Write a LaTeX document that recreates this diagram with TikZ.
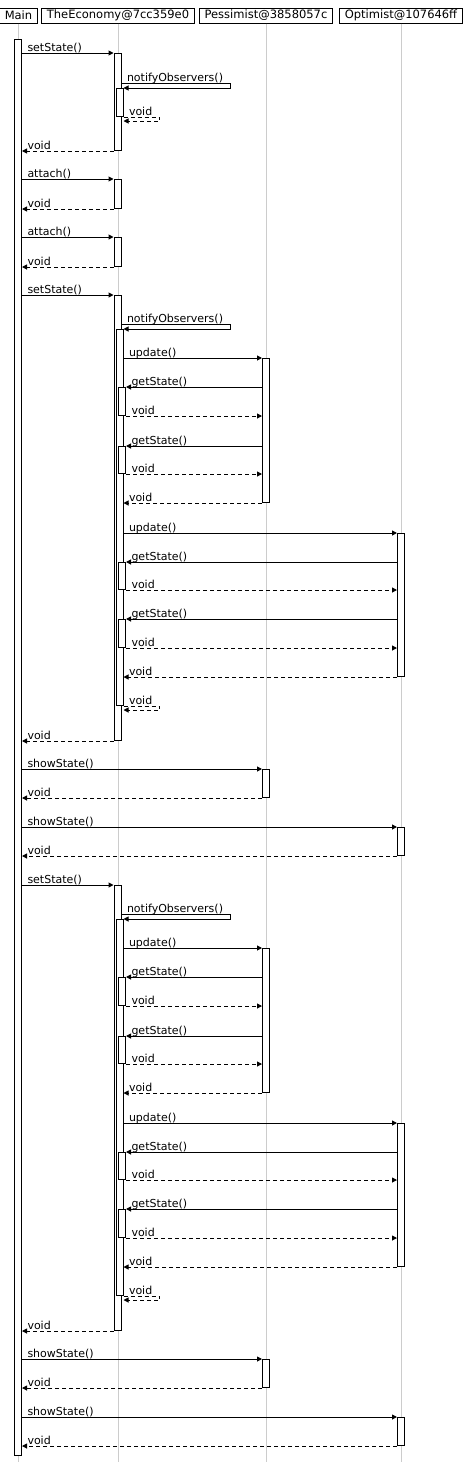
\documentclass[tikz,border=0pt]{standalone}
\usepackage{fontspec}
\setmainfont{DejaVu Sans}
\usetikzlibrary{arrows.meta}
\tikzset{
  head/.style={draw, line width=1pt, inner xsep=5pt, inner ysep=0pt, minimum height=15pt,
    font=\fontsize{11.5pt}{13pt}\selectfont},
  life/.style={draw=black!20, line width=1pt},
  act/.style={draw, fill=white, line width=1pt, minimum width=7pt, inner sep=0pt, anchor=north},
  call/.style={line width=1pt, -{Triangle[length=5pt,width=5pt]}},
  ret/.style={call, dash pattern=on 4pt off 3pt},
  lbl/.style={anchor=base west, inner sep=0pt, xshift=5pt, yshift=2pt},
}
\begin{document}
\begin{tikzpicture}[x=1pt, y=-1pt, font=\fontsize{11pt}{13pt}\selectfont]
    \useasboundingbox (0,0) rectangle (474,1462);
    \node[head] (main) at (18.5,15.5) {Main};
    \node[head] (econ) at (118,15.5) {TheEconomy@7cc359e0};
    \node[head] (pess) at (266,15.5) {Pessimist@3858057c};
    \node[head] (opt) at (401,15.5) {Optimist@107646ff};
    \foreach \n in {main, econ, pess, opt}
      \draw[life] (\n) -- (\n |- 0,1462);
    \node[act, minimum height=1416pt] (m) at (18,39) {};

    \node[act, minimum height=97pt] (e1) at (117.5,53) {};
    \node[act, minimum height=28pt] (e1n) at (119.5,88) {};
    \draw[call] (m.east |- e1.north) node[lbl] {setState()} -- (e1.north west);
    \draw[call] (e1.east |- e1n.north) ++(0,-5) node[lbl] {notifyObservers()}
          -| ++(109,5) -- (e1n.north east);
    \draw[ret] (e1n.south east) node[lbl] {void} -- ++(36,0) -- ++(0,4) -- ++(-36,0);
    \draw[ret] (e1.south west) -- (m.east |- e1.south) node[lbl] {void};

    \node[act, minimum height=29pt] (e2) at (117.5,179) {};
    \node[act, minimum height=29pt] (e3) at (117.5,237) {};
    \foreach \e in {e2, e3} {
      \draw[call] (m.east |- \e.north) node[lbl] {attach()} -- (\e.north west);
      \draw[ret] (\e.south west) -- (m.east |- \e.south) node[lbl] {void};
    }

    \foreach \k/\d in {a/0, b/590} {
      \begin{scope}[shift={(0,\d)}]
        \node[act, minimum height=445pt] (e4\k) at (117.5,295) {};
        \node[act, minimum height=376pt] (e4n\k) at (119.5,329) {};
        \node[act, minimum height=144pt] (p1\k) at (266,358) {};
        \node[act, minimum height=28pt] (g1\k) at (122,387) {};
        \node[act, minimum height=27pt] (g2\k) at (122,446) {};
        \node[act, minimum height=143pt] (o1\k) at (401,533) {};
        \node[act, minimum height=27pt] (g3\k) at (122,562) {};
        \node[act, minimum height=28pt] (g4\k) at (122,619) {};
        \node[act, minimum height=28pt] (p2\k) at (266,769) {};
        \node[act, minimum height=28pt] (o2\k) at (401,827) {};
        \draw[call] (m.east |- e4\k.north) node[lbl] {setState()} -- (e4\k.north west);
        \draw[call] (e4\k.east |- e4n\k.north) ++(0,-5) node[lbl] {notifyObservers()}
              -| ++(109,5) -- (e4n\k.north east);
        \foreach \o in {p1, o1} {
          \draw[call] (e4n\k.east |- \o\k.north) node[lbl] {update()} -- (\o\k.north west);
          \draw[ret] (\o\k.south west) -- (e4n\k.east |- \o\k.south) node[lbl] {void};
        }
        \foreach \g/\o in {g1/p1, g2/p1, g3/o1, g4/o1} {
          \draw[call] (\o\k.west |- \g\k.north) -- (\g\k.north east) node[lbl] {getState()};
          \draw[ret] (\g\k.south east) node[lbl] {void} -- (\o\k.west |- \g\k.south);
        }
        \draw[ret] (e4n\k.south east) node[lbl] {void} -- ++(36,0) -- ++(0,4) -- ++(-36,0);
        \draw[ret] (e4\k.south west) -- (m.east |- e4\k.south) node[lbl] {void};
        \foreach \o in {p2, o2} {
          \draw[call] (m.east |- \o\k.north) node[lbl] {showState()} -- (\o\k.north west);
          \draw[ret] (\o\k.south west) -- (m.east |- \o\k.south) node[lbl] {void};
        }
      \end{scope}
    }
  \end{tikzpicture}
\end{document}
